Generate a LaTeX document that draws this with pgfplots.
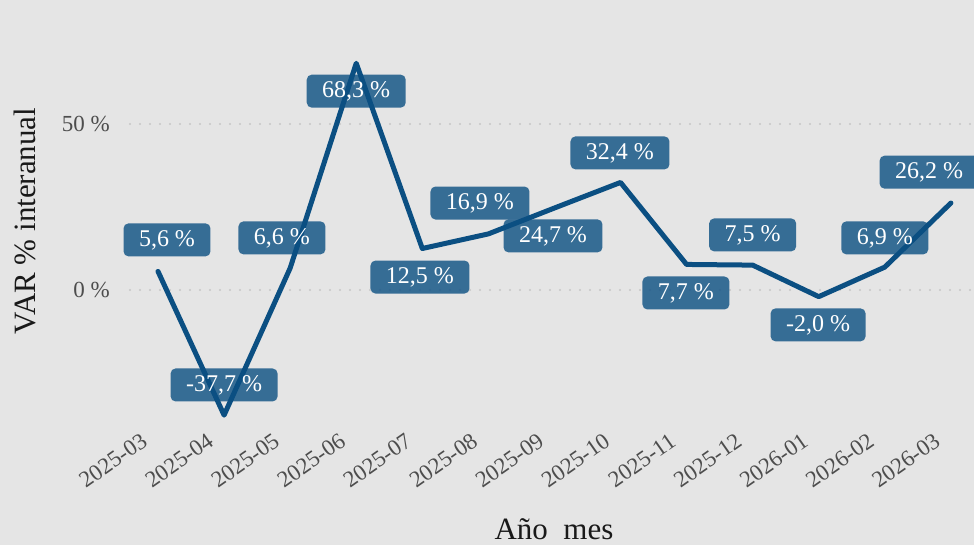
\documentclass[border=0pt]{standalone}
\usepackage{pgfplots}
\pgfplotsset{compat=1.18}
\usepackage{fontspec}
\setmainfont{Liberation Serif}
\definecolor{bgcol}{RGB}{229,229,229}
\definecolor{linecol}{RGB}{11,79,130}
\definecolor{tickcol}{RGB}{77,77,77}
\definecolor{gridcol}{RGB}{198,198,198}
\tikzset{labnode/.style={fill=linecol, fill opacity=0.8, text opacity=1, text=white,
    rounded corners=5pt, minimum height=33pt, inner xsep=15.5pt, inner ysep=0pt,
    font=\fontsize{24}{28}\selectfont}}
\begin{document}
\begin{tikzpicture}[x=1pt,y=1pt]
\fill[bgcol] (0,0) rectangle (974,545);
\begin{axis}[
  at={(130pt,112pt)}, anchor=south west,
  scale only axis, width=844pt, height=387pt,
  xmin=-0.424, xmax=12.35, ymin=-43.07, ymax=73.5,
  clip=false,
  axis line style={draw=none},
  major tick length=0pt,
  ytick={0,50}, yticklabels={0 \%,50 \%},
  xtick={0,...,12},
  xticklabels={2025-03,2025-04,2025-05,2025-06,2025-07,2025-08,2025-09,2025-10,2025-11,2025-12,2026-01,2026-02,2026-03},
  ymajorgrids,
  major grid style={gridcol, line width=2.2pt, dash pattern=on 0pt off 10pt, line cap=round},
  ticklabel style={font=\fontsize{23}{27}\selectfont, text=tickcol},
  yticklabel style={anchor=east, inner sep=0pt, xshift=-20pt},
  xticklabel style={xshift=-18pt, yshift=1pt, rotate=35, anchor=north east, inner sep=0pt},
]
\addplot[linecol, line width=5pt, line join=round, line cap=round] coordinates {
(0,5.6) (1,-37.7) (2,6.6) (3,68.3) (4,12.5) (5,16.9) (6,24.7) (7,32.4) (8,7.7) (9,7.5) (10,-2.0) (11,6.9) (12,26.2)
};
\node[labnode] at (axis cs:0.136,15.1) {5,6 \%};
\node[labnode] at (axis cs:1.0,-28.6) {-37,7 \%};
\node[labnode] at (axis cs:1.876,15.7) {6,6 \%};
\node[labnode] at (axis cs:3.0,59.9) {68,3 \%};
\node[labnode] at (axis cs:3.965,3.9) {12,5 \%};
\node[labnode] at (axis cs:4.873,26.2) {16,9 \%};
\node[labnode] at (axis cs:5.978,16.3) {24,7 \%};
\node[labnode] at (axis cs:6.992,41.3) {32,4 \%};
\node[labnode] at (axis cs:7.99,-0.9) {7,7 \%};
\node[labnode] at (axis cs:9.0,16.6) {7,5 \%};
\node[labnode] at (axis cs:9.99,-10.5) {-2,0 \%};
\node[labnode] at (axis cs:11.0,15.7) {6,9 \%};
\node[labnode] at (axis cs:11.67,35.5) {26,2 \%};
\end{axis}
\node[rotate=90, font=\fontsize{31}{36}\selectfont, text=black!90, inner sep=0pt] at (25,324) {VAR \% interanual};
\node[anchor=base, font=\fontsize{31}{36}\selectfont, text=black!90, inner sep=0pt] at (554,5) {Año\ \ mes};
\pgfresetboundingbox
\path (0,0) rectangle (974,545);
\end{tikzpicture}
\end{document}
